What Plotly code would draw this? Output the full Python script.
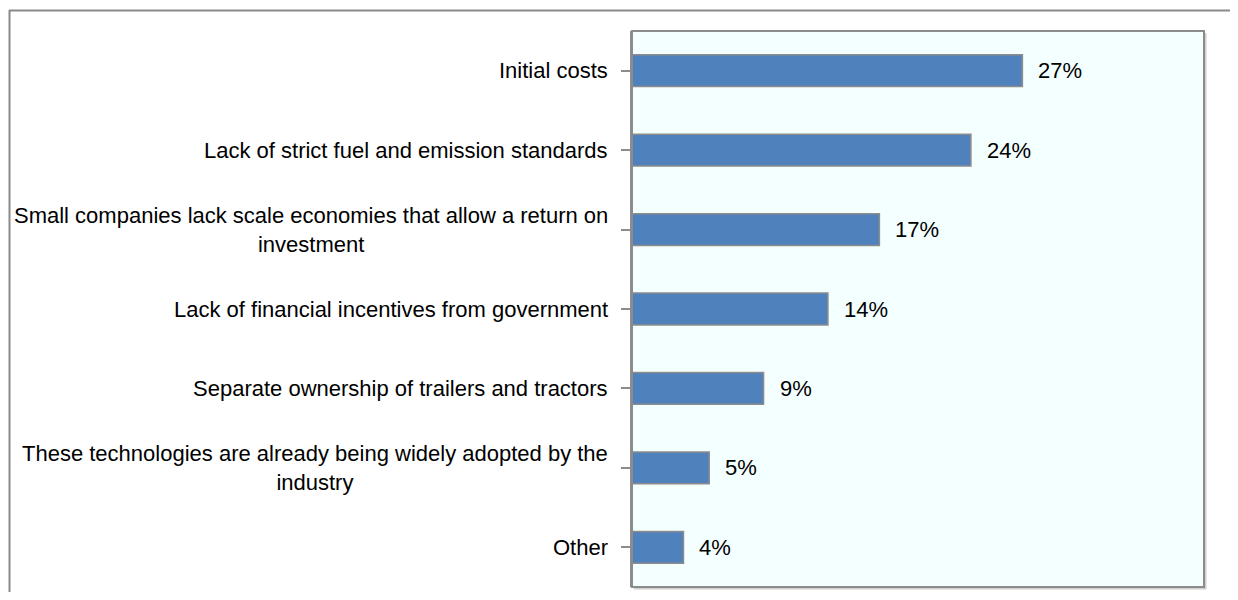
import plotly.graph_objects as go

# data, top to bottom as in the chart
categories = [
    "Initial costs",
    "Lack of strict fuel and emission standards",
    "Small companies lack scale economies that allow a return on<br>investment",
    "Lack of financial incentives from government",
    "Separate ownership of trailers and tractors",
    "These technologies are already being widely adopted by the<br>industry",
    "Other",
]
shares = [0.273, 0.237, 0.173, 0.137, 0.092, 0.054, 0.036]
pct_labels = ["27%", "24%", "17%", "14%", "9%", "5%", "4%"]

FONT = "Liberation Sans, Arial, sans-serif"
BAR = "#4F81BD"
EDGE = "#8C8C8C"
PLOT_BG = "#F4FFFF"

# page has an 8px body margin, so figure coords = page coords - 8
W, H = 1222, 584
L, R, T, B = 624, 26, 23, 5
pw, ph = W - L - R, H - T - B


def px_x(p):
    return (p - L) / pw


def px_y(p):
    return (H - B - p) / ph


fig = go.Figure()
fig.add_trace(go.Bar(
    x=shares, y=list(range(len(categories))), orientation="h", width=0.4,
    marker=dict(color=BAR, line=dict(color=EDGE, width=1.5)),
    hoverinfo="skip",
))

# category labels (centered multi-line like the original)
for i, c in enumerate(categories):
    fig.add_annotation(x=0, y=i, xref="paper", yref="y", text=c, showarrow=False,
                       xanchor="right", align="center", xshift=-22,
                       font=dict(family=FONT, size=22, color="#000"))
# value labels
for i, (v, t) in enumerate(zip(shares, pct_labels)):
    fig.add_annotation(x=v, y=i, xref="x", yref="y", text=t, showarrow=False,
                       xanchor="left", xshift=14,
                       font=dict(family=FONT, size=22, color="#000"))

# outer frame (cut off at right and bottom)
fig.add_shape(type="line", xref="paper", yref="paper", x0=px_x(1), x1=px_x(W + 2),
              y0=px_y(2.5), y1=px_y(2.5), line=dict(color="#8A8A8A", width=2))
fig.add_shape(type="line", xref="paper", yref="paper", x0=px_x(1.5), x1=px_x(1.5),
              y0=px_y(2), y1=px_y(H + 2), line=dict(color="#8A8A8A", width=2))
# plot frame with slight shadow on the right and bottom
fig.add_shape(type="line", xref="paper", yref="paper", x0=px_x(L + pw + 1.5), x1=px_x(L + pw + 1.5),
              y0=px_y(T + 2), y1=px_y(H - B + 2), line=dict(color="#D0D0D0", width=2))
fig.add_shape(type="line", xref="paper", yref="paper", x0=px_x(L + 2), x1=px_x(L + pw + 2),
              y0=px_y(H - B + 1.5), y1=px_y(H - B + 1.5), line=dict(color="#D0D0D0", width=2))
fig.add_shape(type="rect", xref="paper", yref="paper", x0=0, x1=1, y0=0, y1=1,
              line=dict(color="#8C8C8C", width=2), layer="above")

fig.update_layout(
    width=W, height=H,
    margin=dict(l=L, r=R, t=T, b=B),
    paper_bgcolor="white", plot_bgcolor=PLOT_BG,
    showlegend=False,
    font=dict(family=FONT),
    xaxis=dict(range=[0, 0.4], showgrid=False, zeroline=False, showticklabels=False,
               ticks="", fixedrange=True),
    yaxis=dict(range=[6.5, -0.5], tickmode="array",
               tickvals=list(range(len(categories))), ticktext=[""] * len(categories),
               tickson="boundaries", ticks="outside", ticklen=9, tickwidth=2,
               tickcolor="#8C8C8C", showline=True, linecolor="#8C8C8C", linewidth=2,
               showgrid=False, zeroline=False, fixedrange=True),
)

fig.write_html("out.html")
